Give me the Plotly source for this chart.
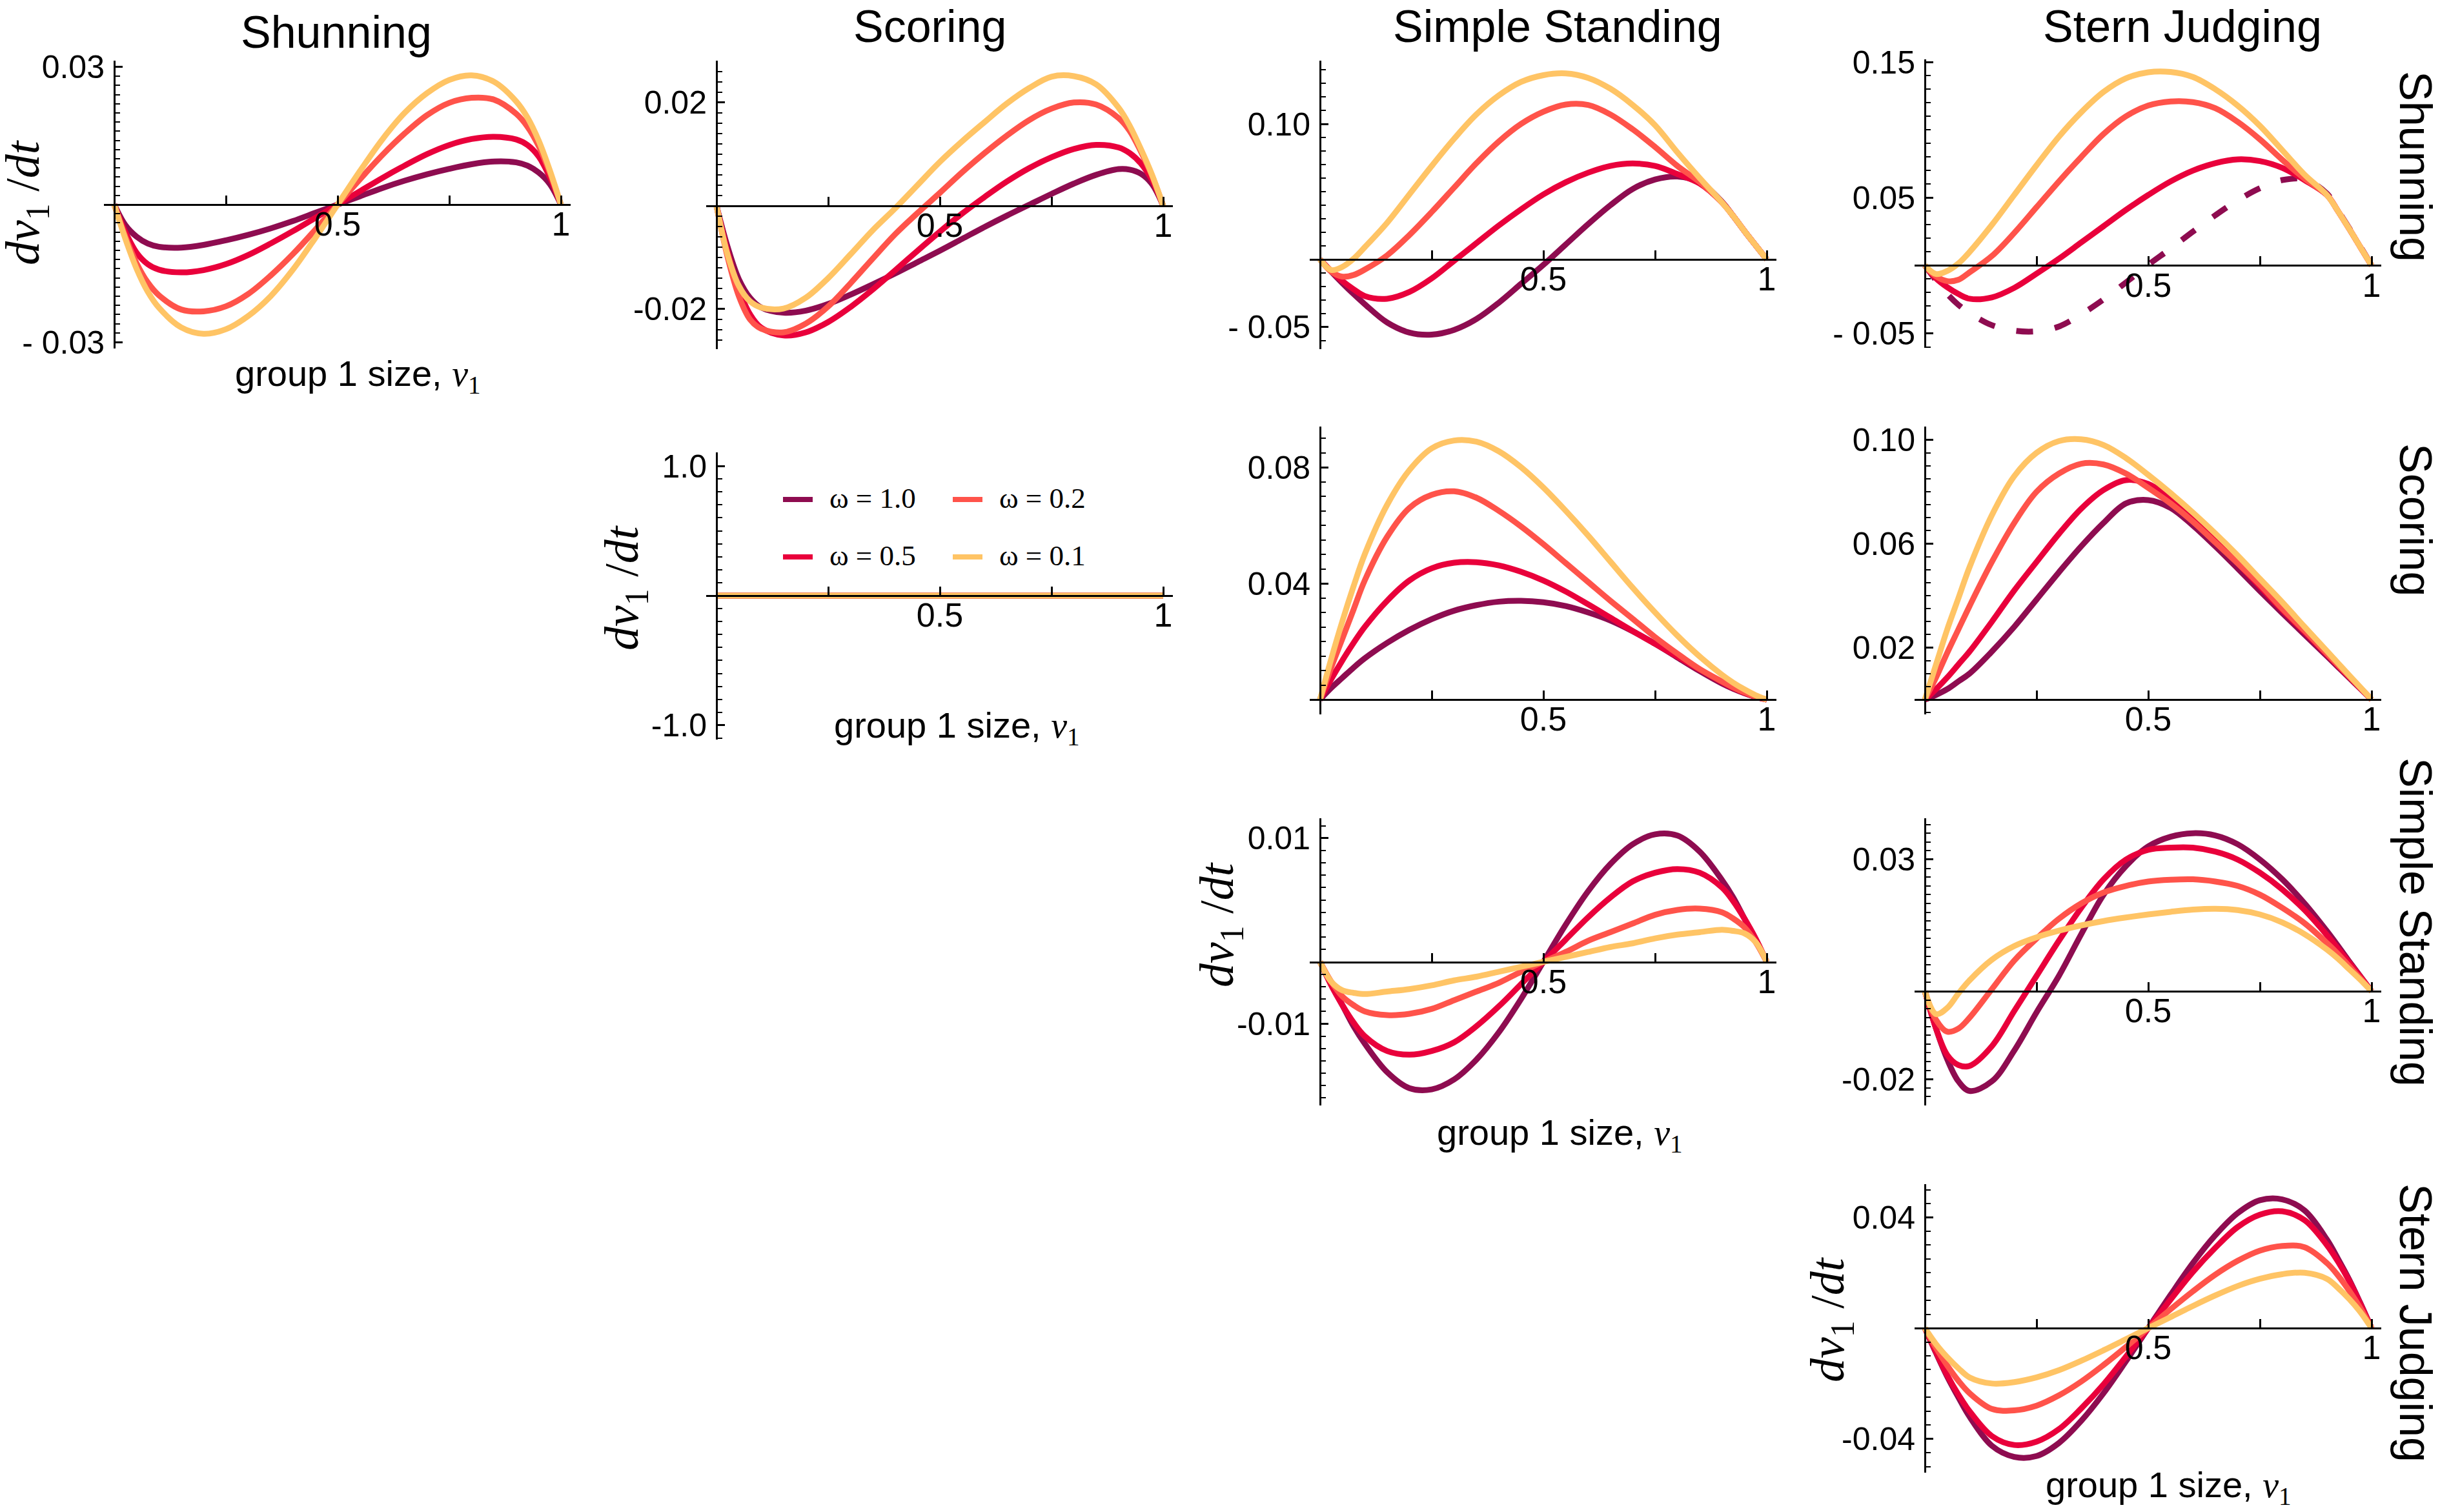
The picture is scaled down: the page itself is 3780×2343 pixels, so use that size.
import math
import plotly.graph_objects as go

W, H = 3780, 2343
OFF = 8  # the page body offsets the figure by this many pixels

norms = ["Shunning", "Scoring", "Simple Standing", "Stern Judging"]
omega_labels = ["ω = 1.0", "ω = 0.5", "ω = 0.2", "ω = 0.1"]
colors = ["#8E0C50", "#E9003B", "#FF534A", "#FFC465"]

nu1 = [0, 0.025, 0.05, 0.075, 0.1, 0.15, 0.2, 0.25, 0.3, 0.35, 0.4, 0.45, 0.5,
       0.55, 0.6, 0.65, 0.7, 0.75, 0.8, 0.85, 0.9, 0.925, 0.95, 0.975, 1]
nu1_ends = [0, 1]

# ---- row: Shunning ----
sh_sh_w10 = [0, -0.0045, -0.0070, -0.0085, -0.0092, -0.0094, -0.0088, -0.0078, -0.0066, -0.0052, -0.0036, -0.0018, 0,
             0.0018, 0.0036, 0.0052, 0.0066, 0.0078, 0.0088, 0.0094, 0.0092, 0.0085, 0.0070, 0.0045, 0]
sh_sh_w05 = [0, -0.0060, -0.0105, -0.0130, -0.0142, -0.0148, -0.0143, -0.0130, -0.0110, -0.0085, -0.0058, -0.0029, 0,
             0.0029, 0.0058, 0.0085, 0.0110, 0.0130, 0.0143, 0.0148, 0.0142, 0.0130, 0.0105, 0.0060, 0]
sh_sh_w02 = [0, -0.0070, -0.0128, -0.0170, -0.0198, -0.0229, -0.0233, -0.0222, -0.0195, -0.0155, -0.0108, -0.0055, 0,
             0.0055, 0.0108, 0.0155, 0.0195, 0.0222, 0.0233, 0.0229, 0.0198, 0.0170, 0.0128, 0.0070, 0]
sh_sh_w01 = [0, -0.0075, -0.0140, -0.0190, -0.0225, -0.0268, -0.0282, -0.0272, -0.0243, -0.0200, -0.0142, -0.0073, 0,
             0.0073, 0.0142, 0.0200, 0.0243, 0.0272, 0.0282, 0.0268, 0.0225, 0.0190, 0.0140, 0.0075, 0]

sh_sc_w10 = [0, -0.0080, -0.0142, -0.0178, -0.0197, -0.0207, -0.0203, -0.0190, -0.0172, -0.0152, -0.0131, -0.0109, -0.0087,
             -0.0064, -0.0041, -0.0019, 0.0002, 0.0023, 0.0043, 0.0060, 0.0071, 0.0070, 0.0062, 0.0042, 0]
sh_sc_w05 = [0, -0.0090, -0.0162, -0.0210, -0.0236, -0.0251, -0.0245, -0.0225, -0.0196, -0.0162, -0.0125, -0.0087, -0.0050,
             -0.0015, 0.0017, 0.0047, 0.0073, 0.0094, 0.0110, 0.0118, 0.0113, 0.0102, 0.0082, 0.0050, 0]
sh_sc_w02 = [0, -0.0100, -0.0175, -0.0220, -0.0238, -0.0245, -0.0228, -0.0195, -0.0150, -0.0102, -0.0055, -0.0014, 0.0025,
             0.0065, 0.0102, 0.0136, 0.0166, 0.0188, 0.0200, 0.0196, 0.0170, 0.0145, 0.0105, 0.0058, 0]
sh_sc_w01 = [0, -0.0095, -0.0155, -0.0185, -0.0197, -0.0199, -0.0178, -0.0140, -0.0094, -0.0047, -0.0005, 0.0040, 0.0085,
             0.0125, 0.0162, 0.0198, 0.0228, 0.0250, 0.0251, 0.0235, 0.0190, 0.0155, 0.0110, 0.0060, 0]

sh_ss_w10 = [0, -0.0090, -0.0175, -0.0255, -0.0330, -0.0465, -0.0540, -0.0555, -0.0520, -0.0440, -0.0320, -0.0180, -0.0040,
             0.0110, 0.0260, 0.0400, 0.0520, 0.0590, 0.0612, 0.0570, 0.0425, 0.0320, 0.0210, 0.0105, 0]
sh_ss_w05 = [0, -0.0085, -0.0160, -0.0220, -0.0270, -0.0290, -0.0240, -0.0140, -0.0010, 0.0120, 0.0250, 0.0370, 0.0480,
             0.0570, 0.0640, 0.0690, 0.0708, 0.0690, 0.0630, 0.0560, 0.0420, 0.0320, 0.0210, 0.0105, 0]
sh_ss_w02 = [0, -0.0090, -0.0127, -0.0115, -0.0075, 0.0030, 0.0180, 0.0350, 0.0530, 0.0710, 0.0870, 0.1000, 0.1090,
             0.1143, 0.1140, 0.1070, 0.0960, 0.0830, 0.0690, 0.0570, 0.0420, 0.0320, 0.0210, 0.0105, 0]
sh_ss_w01 = [0, -0.0078, -0.0055, 0.0005, 0.0090, 0.0270, 0.0480, 0.0690, 0.0890, 0.1070, 0.1210, 0.1310, 0.1360,
             0.1373, 0.1340, 0.1260, 0.1140, 0.0990, 0.0790, 0.0600, 0.0420, 0.0320, 0.0210, 0.0105, 0]

sh_sj_w10 = [0, -0.0110, -0.0210, -0.0290, -0.0350, -0.0440, -0.0480, -0.0485, -0.0450, -0.0360, -0.0250, -0.0125, 0.0005,
             0.0125, 0.0250, 0.0370, 0.0480, 0.0570, 0.0630, 0.0635, 0.0530, 0.0405, 0.0275, 0.0140, 0]
sh_sj_w05 = [0, -0.0095, -0.0160, -0.0210, -0.0245, -0.0235, -0.0165, -0.0060, 0.0050, 0.0170, 0.0290, 0.0410, 0.0520,
             0.0620, 0.0700, 0.0755, 0.0783, 0.0770, 0.0720, 0.0630, 0.0520, 0.0400, 0.0270, 0.0135, 0]
sh_sj_w02 = [0, -0.0080, -0.0115, -0.0105, -0.0050, 0.0070, 0.0240, 0.0430, 0.0620, 0.0800, 0.0970, 0.1100, 0.1180,
             0.1210, 0.1205, 0.1160, 0.1060, 0.0930, 0.0780, 0.0640, 0.0520, 0.0400, 0.0270, 0.0135, 0]
sh_sj_w01 = [0, -0.0063, -0.0040, 0.0015, 0.0100, 0.0300, 0.0520, 0.0740, 0.0950, 0.1130, 0.1280, 0.1380, 0.1425,
             0.1427, 0.1390, 0.1300, 0.1180, 0.1030, 0.0850, 0.0670, 0.0520, 0.0400, 0.0270, 0.0135, 0]

# ---- row: Scoring ----
sc_sc_w10 = [0, 0]
sc_sc_w05 = [0, 0]
sc_sc_w02 = [0, 0]
sc_sc_w01 = [0, 0]

sc_ss_w10 = [0, 0.0040, 0.0075, 0.0110, 0.0142, 0.0195, 0.0240, 0.0277, 0.0306, 0.0325, 0.0337, 0.0340, 0.0335,
             0.0322, 0.0300, 0.0272, 0.0235, 0.0192, 0.0145, 0.0098, 0.0055, 0.0037, 0.0022, 0.0009, 0]
sc_ss_w05 = [0, 0.0070, 0.0135, 0.0195, 0.0250, 0.0340, 0.0410, 0.0452, 0.0471, 0.0473, 0.0462, 0.0440, 0.0410,
             0.0372, 0.0328, 0.0282, 0.0236, 0.0192, 0.0148, 0.0103, 0.0060, 0.0040, 0.0023, 0.0009, 0]
sc_ss_w02 = [0, 0.0110, 0.0210, 0.0310, 0.0410, 0.0560, 0.0660, 0.0705, 0.0717, 0.0695, 0.0650, 0.0596, 0.0535,
             0.0470, 0.0405, 0.0340, 0.0278, 0.0215, 0.0158, 0.0105, 0.0062, 0.0042, 0.0025, 0.0010, 0]
sc_ss_w01 = [0, 0.0140, 0.0270, 0.0390, 0.0500, 0.0670, 0.0790, 0.0865, 0.0892, 0.0888, 0.0855, 0.0800, 0.0730,
             0.0650, 0.0565, 0.0475, 0.0385, 0.0300, 0.0220, 0.0148, 0.0085, 0.0058, 0.0035, 0.0015, 0]

sc_sj_w10 = [0, 0.0018, 0.0040, 0.0070, 0.0100, 0.0185, 0.0280, 0.0385, 0.0490, 0.0590, 0.0680, 0.0755, 0.0768,
             0.0738, 0.0670, 0.0590, 0.0505, 0.0418, 0.0333, 0.0250, 0.0167, 0.0125, 0.0083, 0.0042, 0]
sc_sj_w05 = [0, 0.0040, 0.0085, 0.0135, 0.0185, 0.0300, 0.0420, 0.0530, 0.0638, 0.0735, 0.0807, 0.0845, 0.0830,
             0.0775, 0.0700, 0.0615, 0.0525, 0.0435, 0.0345, 0.0260, 0.0173, 0.0130, 0.0087, 0.0043, 0]
sc_sj_w02 = [0, 0.0085, 0.0180, 0.0270, 0.0360, 0.0530, 0.0680, 0.0800, 0.0870, 0.0908, 0.0905, 0.0870, 0.0815,
             0.0755, 0.0685, 0.0605, 0.0525, 0.0442, 0.0350, 0.0265, 0.0177, 0.0133, 0.0089, 0.0045, 0]
sc_sj_w01 = [0, 0.0135, 0.0270, 0.0390, 0.0510, 0.0710, 0.0860, 0.0950, 0.0995, 0.1002, 0.0980, 0.0930, 0.0865,
             0.0795, 0.0720, 0.0640, 0.0555, 0.0465, 0.0375, 0.0280, 0.0187, 0.0140, 0.0093, 0.0047, 0]

# ---- row: Simple Standing ----
ss_ss_w10 = [0, -0.0018, -0.0035, -0.0052, -0.0066, -0.0089, -0.0102, -0.0103, -0.0095, -0.0079, -0.0057, -0.0030, 0,
             0.0030, 0.0057, 0.0079, 0.0095, 0.0103, 0.0102, 0.0089, 0.0066, 0.0052, 0.0035, 0.0018, 0]
ss_ss_w05 = [0, -0.0019, -0.0035, -0.0049, -0.0060, -0.0072, -0.0075, -0.0072, -0.0065, -0.0052, -0.0036, -0.0018, 0,
             0.0018, 0.0036, 0.0052, 0.0065, 0.0072, 0.0075, 0.0072, 0.0060, 0.0049, 0.0035, 0.0019, 0]
ss_ss_w02 = [0, -0.0016, -0.0028, -0.0035, -0.0040, -0.0043, -0.0042, -0.0038, -0.0031, -0.0024, -0.0017, -0.0008, 0,
             0.0008, 0.0017, 0.0024, 0.0031, 0.0038, 0.0042, 0.0043, 0.0040, 0.0035, 0.0028, 0.0016, 0]
ss_ss_w01 = [0, -0.0016, -0.0023, -0.0025, -0.0026, -0.0024, -0.0022, -0.0019, -0.0015, -0.0012, -0.0008, -0.0004, 0,
             0.0004, 0.0008, 0.0012, 0.0015, 0.0019, 0.0022, 0.0024, 0.0026, 0.0025, 0.0023, 0.0016, 0]

ss_sj_w10 = [0, -0.0085, -0.0155, -0.0205, -0.0227, -0.0205, -0.0135, -0.0048, 0.0035, 0.0130, 0.0220, 0.0285, 0.0330,
             0.0352, 0.0360, 0.0355, 0.0335, 0.0300, 0.0255, 0.0200, 0.0137, 0.0103, 0.0068, 0.0034, 0]
ss_sj_w05 = [0, -0.0085, -0.0145, -0.0168, -0.0170, -0.0125, -0.0045, 0.0035, 0.0115, 0.0190, 0.0255, 0.0300, 0.0322,
             0.0327, 0.0327, 0.0318, 0.0300, 0.0270, 0.0232, 0.0185, 0.0128, 0.0097, 0.0065, 0.0033, 0]
ss_sj_w02 = [0, -0.0065, -0.0092, -0.0085, -0.0060, 0.0005, 0.0070, 0.0120, 0.0165, 0.0200, 0.0225, 0.0240, 0.0250,
             0.0254, 0.0255, 0.0250, 0.0240, 0.0220, 0.0190, 0.0155, 0.0110, 0.0085, 0.0057, 0.0029, 0]
ss_sj_w01 = [0, -0.0052, -0.0038, -0.0005, 0.0025, 0.0072, 0.0103, 0.0123, 0.0138, 0.0150, 0.0160, 0.0168, 0.0175,
             0.0181, 0.0186, 0.0188, 0.0185, 0.0175, 0.0157, 0.0130, 0.0095, 0.0074, 0.0050, 0.0026, 0]

# ---- row: Stern Judging ----
sj_sj_w10 = [0, -0.0090, -0.0175, -0.0250, -0.0320, -0.0425, -0.0465, -0.0462, -0.0415, -0.0335, -0.0235, -0.0120, 0,
             0.0120, 0.0235, 0.0335, 0.0415, 0.0462, 0.0465, 0.0425, 0.0320, 0.0250, 0.0175, 0.0090, 0]
sj_sj_w05 = [0, -0.0087, -0.0170, -0.0240, -0.0300, -0.0390, -0.0422, -0.0410, -0.0365, -0.0290, -0.0203, -0.0103, 0,
             0.0103, 0.0203, 0.0290, 0.0365, 0.0410, 0.0422, 0.0390, 0.0300, 0.0240, 0.0170, 0.0087, 0]
sj_sj_w02 = [0, -0.0072, -0.0135, -0.0190, -0.0235, -0.0292, -0.0297, -0.0280, -0.0243, -0.0193, -0.0133, -0.0068, 0,
             0.0068, 0.0133, 0.0193, 0.0243, 0.0280, 0.0297, 0.0292, 0.0235, 0.0190, 0.0135, 0.0072, 0]
sj_sj_w01 = [0, -0.0058, -0.0105, -0.0145, -0.0178, -0.0200, -0.0195, -0.0178, -0.0152, -0.0118, -0.0080, -0.0040, 0,
             0.0040, 0.0080, 0.0118, 0.0152, 0.0178, 0.0195, 0.0200, 0.0178, 0.0145, 0.0105, 0.0058, 0]

# labelled y ticks per panel: (values, labels, minor-tick step)
ticks_sh_sh = ([-0.03, 0.03], ["- 0.03", "0.03"], 0.002)
ticks_sh_sc = ([-0.02, 0.02], ["-0.02", "0.02"], 0.002)
ticks_sh_ss = ([-0.05, 0.10], ["- 0.05", "0.10"], 0.01)
ticks_sh_sj = ([-0.05, 0.05, 0.15], ["- 0.05", "0.05", "0.15"], 0.01)
ticks_sc_sc = ([-1.0, 1.0], ["-1.0", "1.0"], 0.1)
ticks_sc_ss = ([0.04, 0.08], ["0.04", "0.08"], 0.005)
ticks_sc_sj = ([0.02, 0.06, 0.10], ["0.02", "0.06", "0.10"], 0.005)
ticks_ss_ss = ([-0.005, 0.01], ["-0.01", "0.01"], 0.001)
ticks_ss_sj = ([-0.02, 0.03], ["-0.02", "0.03"], 0.002)
ticks_sj_sj = ([-0.04, 0.04], ["-0.04", "0.04"], 0.005)
x_tickvals = [0.5, 1]
x_ticktext = ["0.5", "1"]
x_minorvals = [0.25, 0.75]

# ---------------- layout geometry (screen pixels) ----------------
def fx(p):
    return (p - OFF) / W


def fy(p):
    return 1 - (p - OFF) / H


def minor_positions(lo, hi, step, skip):
    n0, n1 = math.ceil(lo / step - 1e-9), math.floor(hi / step + 1e-9)
    out = []
    for n in range(n0, n1 + 1):
        v = round(n * step, 6)
        if abs(v) < 1e-12 or any(abs(v - s) < step / 10 for s in skip):
            continue
        out.append(v)
    return out


col_x0 = [177, 1110, 2045, 2982]   # pixel of nu1 = 0
unit = 692                          # pixels per unit nu1
XR = [-0.023, 1.022]

panels = [
    # row, col, series, x, yrange, top_px, bottom_px, ticks
    (0, 0, [sh_sh_w10, sh_sh_w05, sh_sh_w02, sh_sh_w01], nu1, [-0.0314, 0.0314], 94, 540, ticks_sh_sh),
    (0, 1, [sh_sc_w10, sh_sc_w05, sh_sc_w02, sh_sc_w01], nu1, [-0.02775, 0.0281], 94, 541, ticks_sh_sc),
    (0, 2, [sh_ss_w10, sh_ss_w05, sh_ss_w02, sh_ss_w01], nu1, [-0.0662, 0.1467], 94, 541, ticks_sh_ss),
    (0, 3, [sh_sj_w10, sh_sj_w05, sh_sj_w02, sh_sj_w01], nu1, [-0.0607, 0.152], 92, 539, ticks_sh_sj),
    (1, 1, [sc_sc_w10, sc_sc_w05, sc_sc_w02, sc_sc_w01], nu1_ends, [-1.11, 1.105], 701, 1146, ticks_sc_sc),
    (1, 2, [sc_ss_w10, sc_ss_w05, sc_ss_w02, sc_ss_w01], nu1, [-0.0051, 0.094], 661, 1107, ticks_sc_ss),
    (1, 3, [sc_sj_w10, sc_sj_w05, sc_sj_w02, sc_sj_w01], nu1, [-0.0057, 0.1051], 661, 1107, ticks_sc_sj),
    (2, 2, [ss_ss_w10, ss_ss_w05, ss_ss_w02, ss_ss_w01], nu1, [-0.0116, 0.0116], 1268, 1713, ticks_ss_ss),
    (2, 3, [ss_sj_w10, ss_sj_w05, ss_sj_w02, ss_sj_w01], nu1, [-0.026, 0.0394], 1268, 1713, ticks_ss_sj),
    (3, 3, [sj_sj_w10, sj_sj_w05, sj_sj_w02, sj_sj_w01], nu1, [-0.0522, 0.052], 1835, 2282, ticks_sj_sj),
]

SANS = "Liberation Sans, Arial, Helvetica, sans-serif"
SERIF = "Liberation Serif, Times New Roman, serif"

fig = go.Figure()
layout = {}

for k, (row, col, series, xs, yr, top, bot, (tv, tt, mdt)) in enumerate(panels, start=1):
    xa = "xaxis" if k == 1 else f"xaxis{k}"
    ya = "yaxis" if k == 1 else f"yaxis{k}"
    xr_ = "x" if k == 1 else f"x{k}"
    yr_ = "y" if k == 1 else f"y{k}"
    x0 = col_x0[col]
    dom_x = [fx(x0 + XR[0] * unit), fx(x0 + XR[1] * unit)]
    dom_y = [fy(bot), fy(top)]
    zero_px = top + yr[1] / (yr[1] - yr[0]) * (bot - top)
    layout[xa] = dict(
        domain=dom_x, range=XR, anchor="free", position=fy(zero_px),
        showgrid=False, zeroline=False, showline=True, linecolor="black", linewidth=3,
        ticks="inside", ticklen=13, tickwidth=2.5, tickcolor="black",
        tickmode="array", tickvals=x_tickvals, ticktext=x_ticktext, automargin=False,
        tickfont=dict(family=SANS, size=52, color="black"), ticklabelstandoff=-16,
        minor=dict(ticks="inside", ticklen=13, tickwidth=2.5, tickcolor="black",
                   tickmode="array", tickvals=x_minorvals, showgrid=False),
    )
    layout[ya] = dict(
        domain=dom_y, range=yr, anchor="free", position=fx(x0),
        showgrid=False, zeroline=False, showline=True, linecolor="black", linewidth=3,
        ticks="inside", ticklen=11, tickwidth=2.5, tickcolor="black",
        tickmode="array", tickvals=tv, ticktext=tt, automargin=False,
        tickfont=dict(family=SANS, size=50, color="black"), ticklabelstandoff=4,
        minor=dict(ticks="inside", ticklen=7, tickwidth=2, tickcolor="black",
                   tickmode="array", tickvals=minor_positions(yr[0], yr[1], mdt, tv),
                   showgrid=False),
    )
    for i, ys in enumerate(series):
        dashed = (row == 0 and col == 3 and i == 0)
        fig.add_trace(go.Scatter(
            x=xs, y=ys, mode="lines", name=omega_labels[i], showlegend=False,
            line=dict(color=colors[i], width=9, shape="spline", smoothing=1.0,
                      dash="26px,34px" if dashed else "solid"),
            xaxis=xr_, yaxis=yr_, hoverinfo="skip",
        ))

annotations = []
# column titles
col_title_pos = [(521, 50), (1440, 41), (2413, 41), (3381, 41)]
for name, (px, py) in zip(norms, col_title_pos):
    annotations.append(dict(text=name, x=fx(px), y=fy(py), xref="paper", yref="paper",
                            showarrow=False, xanchor="center", yanchor="middle",
                            font=dict(family=SANS, size=70, color="black")))
# row titles (rotated)
row_title_pos = [(3742, 258), (3742, 805), (3742, 1429), (3742, 2050)]
for name, (px, py) in zip(norms, row_title_pos):
    annotations.append(dict(text=name, x=fx(px), y=fy(py), xref="paper", yref="paper",
                            showarrow=False, xanchor="center", yanchor="middle", textangle=90,
                            font=dict(family=SANS, size=70, color="black")))
# axis titles on the diagonal panels
xtitle = "group 1 size, <span style='font-family:Liberation Serif'><i>ν</i><sub>1</sub></span>"
ytitle = "<i>d</i><i>ν</i><sub>1</sub> /<i>dt</i>"
xtitle_pos = [(554, 582), (1482, 1127), (2416, 1758), (3359, 2304)]
ytitle_pos = [(40, 314), (968, 911), (1890, 1433), (2836, 2045)]
for (px, py) in xtitle_pos:
    annotations.append(dict(text=xtitle, x=fx(px), y=fy(py), xref="paper", yref="paper",
                            showarrow=False, xanchor="center", yanchor="middle",
                            font=dict(family=SANS, size=56, color="black")))
for (px, py) in ytitle_pos:
    annotations.append(dict(text=ytitle, x=fx(px), y=fy(py), xref="paper", yref="paper",
                            showarrow=False, xanchor="center", yanchor="middle", textangle=-90,
                            font=dict(family=SERIF, size=74, color="black")))

# legend (inside the Scoring/Scoring panel)
shapes = []
legend_slots = [(1213, 774), (1213, 863), (1476, 774), (1476, 863)]  # w=1.0, 0.5, 0.2, 0.1
for i, (px, py) in enumerate(legend_slots):
    shapes.append(dict(type="line", xref="paper", yref="paper",
                       x0=fx(px), x1=fx(px + 46), y0=fy(py), y1=fy(py),
                       line=dict(color=colors[i], width=8)))
    annotations.append(dict(text=omega_labels[i], x=fx(px + 70), y=fy(py - 2),
                            xref="paper", yref="paper", showarrow=False,
                            xanchor="left", yanchor="middle",
                            font=dict(family=SERIF, size=45, color="black")))

fig.update_layout(
    width=W, height=H, margin=dict(l=0, r=0, t=0, b=0, pad=0, autoexpand=False),
    paper_bgcolor="white", plot_bgcolor="rgba(0,0,0,0)",
    showlegend=False, annotations=annotations, shapes=shapes,
    **layout,
)

fig.write_html("out.html")
